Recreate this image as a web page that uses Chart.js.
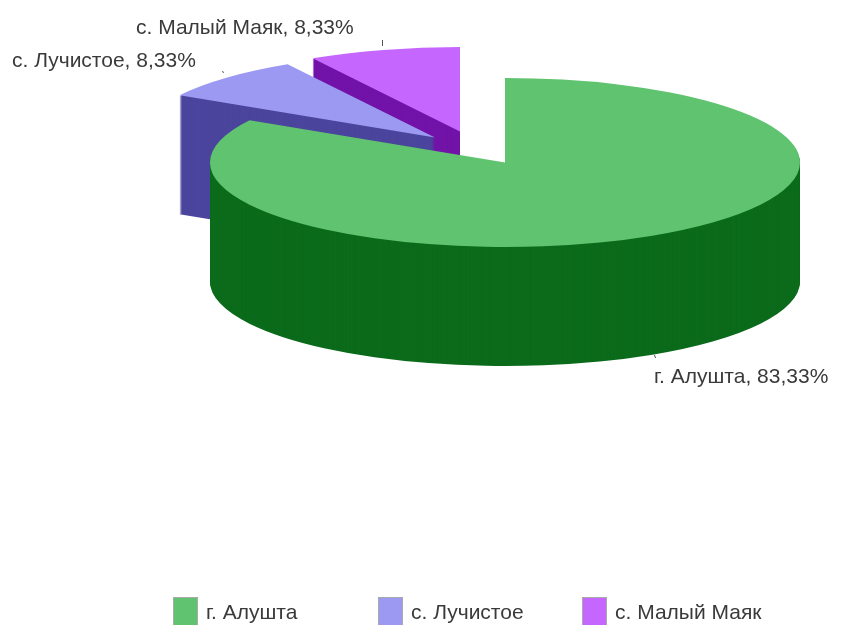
<!DOCTYPE html>
<html>
<head>
<meta charset="utf-8">
<style>
  html, body { margin: 0; background: #fff; overflow: hidden; width: 857px; height: 625px; }
  #wrap { position: relative; width: 857px; height: 625px; overflow: hidden; filter: blur(0.45px); }
  canvas { position: absolute; left: 0; top: 0; }
  .item { position: absolute; top: 597px; height: 34px; font: 21px "Liberation Sans", Arial, sans-serif; color: #3a3a3a; white-space: nowrap; }
  .box { position: absolute; left: 0; top: 0; width: 23px; height: 34px; border: 1px solid #aaa; }
  .txt { position: absolute; left: 33px; top: 3px; }
</style>
<script src="https://cdn.jsdelivr.net/npm/chart.js@4/dist/chart.umd.min.js"></script>
</head>
<body>
<div id="wrap">
  <canvas id="pie" width="857" height="625"></canvas>
</div>
<script>
const LABELS = ['г. Алушта', 'с. Лучистое', 'с. Малый Маяк'];
const VALUES = [83.33, 8.33, 8.33];
const TOP_COLORS = ['#5fc36f', '#9c99f2', '#c566ff'];
const SIDE_COLORS = ['#0b6b1b', '#4b459d', '#7213a8'];

// look of the tilted pie, screen pixels
const CENTER_Y = 162.5;
const SQUASH = 84.5 / 295;
const DEPTH = 119;
const EXPLODE = [[0, 0], [-70, -25], [-45, -31]];
const DRAW_ORDER = [2, 1, 0];
const LABEL_POS = [[654, 383], [12, 67], [136, 34]];
const LEADERS = [[654, 355, 655, 358], [222, 71, 223, 73], [382, 40, 382, 46]];
const LEGEND_X = [173, 378, 582];

const tiltedPie = {
    id: 'tiltedPie',
    beforeDatasetDraw(chart, args) {
        const ctx = chart.ctx;
        const arcs = args.meta.data;
        for (const i of DRAW_ORDER) {
            const arc = arcs[i];
            const base = arc.options;
            const side = Object.create(base);
            side.backgroundColor = SIDE_COLORS[i];
            arc.options = side;
            for (let d = DEPTH; d > 0; d--) {
                this._drawArc(ctx, arc, i, d);
            }
            arc.options = base;
            this._drawArc(ctx, arc, i, 0);
        }
        return false;
    },
    _drawArc(ctx, arc, i, d) {
        ctx.save();
        ctx.translate(EXPLODE[i][0], EXPLODE[i][1] + CENTER_Y + d);
        ctx.scale(1, SQUASH);
        ctx.translate(0, -arc.y);
        arc.draw(ctx);
        ctx.restore();
    },
    afterDraw(chart) {
        const ctx = chart.ctx;
        ctx.save();
        ctx.font = '21px "Liberation Sans", Arial, sans-serif';
        ctx.fillStyle = '#3a3a3a';
        ctx.textAlign = 'left';
        ctx.textBaseline = 'alphabetic';
        LABELS.forEach((label, i) => {
            const pct = String(VALUES[i]).replace('.', ',');
            ctx.fillText(`${label}, ${pct}%`, LABEL_POS[i][0], LABEL_POS[i][1]);
        });
        ctx.strokeStyle = '#555';
        ctx.lineWidth = 1;
        for (const [x1, y1, x2, y2] of LEADERS) {
            ctx.beginPath();
            ctx.moveTo(x1 + 0.5, y1);
            ctx.lineTo(x2 + 0.5, y2);
            ctx.stroke();
        }
        ctx.restore();
    },
};

const chart = new Chart(document.getElementById('pie'), {
    type: 'pie',
    data: {
        labels: LABELS,
        datasets: [{
            data: VALUES,
            backgroundColor: TOP_COLORS,
            borderWidth: 0,
        }],
    },
    options: {
        responsive: false,
        animation: false,
        layout: { padding: { left: 210, right: 57, top: 17.5, bottom: 17.5 } },
        plugins: { legend: { display: false }, tooltip: { enabled: false } },
    },
    plugins: [tiltedPie],
});

// legend columns are evenly spaced, which the built-in legend can't do
const wrap = document.getElementById('wrap');
LABELS.forEach((label, i) => {
    const item = document.createElement('div');
    item.className = 'item';
    item.style.left = LEGEND_X[i] + 'px';
    item.innerHTML = `<div class="box" style="background:${TOP_COLORS[i]}"></div><div class="txt">${label}</div>`;
    wrap.appendChild(item);
});
</script>
</body>
</html>
